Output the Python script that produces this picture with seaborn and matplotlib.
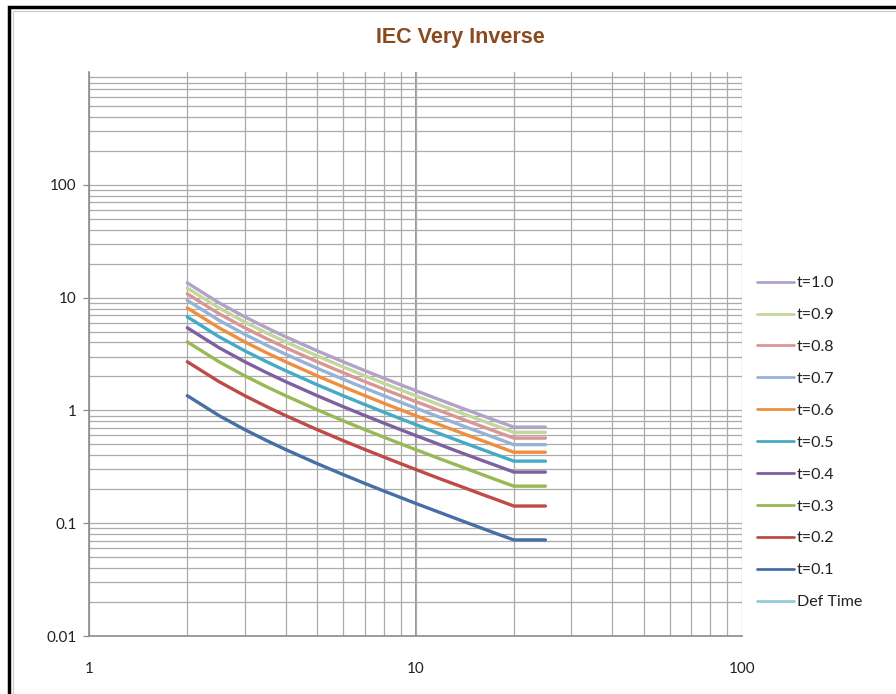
import matplotlib
matplotlib.use("Agg")
import numpy as np
import pandas as pd
import matplotlib.pyplot as plt
import seaborn as sns
from matplotlib.ticker import FixedLocator, FixedFormatter, NullFormatter, LogLocator
from matplotlib.lines import Line2D
from matplotlib.patches import Rectangle
from matplotlib import font_manager

# ---------------- data ----------------
current_multiple = [2, 2.5, 3, 3.5, 4, 5, 6, 7, 8, 9, 10, 12, 14, 16, 18, 20, 25]

t_01 = [1.35, 0.9, 0.675, 0.54, 0.45, 0.3375, 0.27, 0.225, 0.193, 0.169, 0.15, 0.123, 0.104, 0.09, 0.0794, 0.0711, 0.0711]
t_02 = [2.7, 1.8, 1.35, 1.08, 0.9, 0.675, 0.54, 0.45, 0.386, 0.3375, 0.3, 0.245, 0.208, 0.18, 0.159, 0.142, 0.142]
t_03 = [4.05, 2.7, 2.025, 1.62, 1.35, 1.0125, 0.81, 0.675, 0.579, 0.506, 0.45, 0.368, 0.312, 0.27, 0.238, 0.213, 0.213]
t_04 = [5.4, 3.6, 2.7, 2.16, 1.8, 1.35, 1.08, 0.9, 0.771, 0.675, 0.6, 0.491, 0.415, 0.36, 0.318, 0.284, 0.284]
t_05 = [6.75, 4.5, 3.375, 2.7, 2.25, 1.6875, 1.35, 1.125, 0.964, 0.844, 0.75, 0.614, 0.519, 0.45, 0.397, 0.355, 0.355]
t_06 = [8.1, 5.4, 4.05, 3.24, 2.7, 2.025, 1.62, 1.35, 1.157, 1.0125, 0.9, 0.736, 0.623, 0.54, 0.476, 0.426, 0.426]
t_07 = [9.45, 6.3, 4.725, 3.78, 3.15, 2.3625, 1.89, 1.575, 1.35, 1.181, 1.05, 0.859, 0.727, 0.63, 0.556, 0.497, 0.497]
t_08 = [10.8, 7.2, 5.4, 4.32, 3.6, 2.7, 2.16, 1.8, 1.543, 1.35, 1.2, 0.982, 0.831, 0.72, 0.635, 0.568, 0.568]
t_09 = [12.15, 8.1, 6.075, 4.86, 4.05, 3.0375, 2.43, 2.025, 1.736, 1.519, 1.35, 1.105, 0.935, 0.81, 0.715, 0.639, 0.639]
t_10 = [13.5, 9.0, 6.75, 5.4, 4.5, 3.375, 2.7, 2.25, 1.929, 1.688, 1.5, 1.227, 1.038, 0.9, 0.794, 0.711, 0.711]
def_time = []  # no visible points in chart range

series_labels = ["t=0.1", "t=0.2", "t=0.3", "t=0.4", "t=0.5",
                 "t=0.6", "t=0.7", "t=0.8", "t=0.9", "t=1.0"]
series_values = [t_01, t_02, t_03, t_04, t_05, t_06, t_07, t_08, t_09, t_10]
series_colors = ["#466FA6", "#BE4B48", "#98B954", "#7D60A0", "#46AAC5",
                 "#EE8E3E", "#95B3D7", "#D99694", "#C3D69B", "#B3A2C7"]
def_time_label = "Def Time"
def_time_color = "#93CDDD"

y_ticks = [0.01, 0.1, 1, 10, 100]
y_tick_labels = ["0.01", "0.1", "1", "10", "100"]
x_ticks = [1, 10, 100]
x_tick_labels = ["1", "10", "100"]
title_text = "IEC Very Inverse"

# ---------------- style ----------------
sns.set_theme(style="white")
names = {f.name for f in font_manager.fontManager.ttflist}
body_font = "Lato" if "Lato" in names else "DejaVu Sans"
title_font = "Liberation Sans Narrow" if "Liberation Sans Narrow" in names else "Liberation Sans"
title_size = 18 if title_font == "Liberation Sans Narrow" else 15.5
plt.rcParams["font.family"] = [body_font, "DejaVu Sans"]

W, H = 896, 694
fig = plt.figure(figsize=(W / 100, H / 100), dpi=100)
fig.patch.set_facecolor("white")

# chart frame
fig.add_artist(Rectangle((9 / W, -0.1), 1.2, 1 - 7 / H + 0.1, transform=fig.transFigure,
                         fill=False, edgecolor="black", lw=2.5, zorder=0))
fig.add_artist(Rectangle((13 / W, -0.1), 1.2, 1 - 11 / H + 0.1, transform=fig.transFigure,
                         fill=False, edgecolor="#C8C8C8", lw=0.8, zorder=0))

left, right, top, bottom = 89, 742, 72, 636
ax = fig.add_axes([left / W, 1 - bottom / H, (right - left) / W, (bottom - top) / H])

rows = []
for lab, vals in zip(series_labels, series_values):
    for xv, yv in zip(current_multiple, vals):
        rows.append({"I": xv, "t": yv, "series": lab})
df = pd.DataFrame(rows)

ax.set_xscale("log")
ax.set_yscale("log")
ax.set_xlim(1, 100)
ax.set_ylim(0.01, 1000)

# grid
grid_color = "#ABABAB"
ax.xaxis.set_major_locator(FixedLocator(x_ticks))
ax.xaxis.set_major_formatter(FixedFormatter(x_tick_labels))
ax.xaxis.set_minor_locator(LogLocator(base=10, subs=np.arange(2, 10)))
ax.xaxis.set_minor_formatter(NullFormatter())
ax.yaxis.set_major_locator(FixedLocator(y_ticks))
ax.yaxis.set_major_formatter(FixedFormatter(y_tick_labels))
ax.yaxis.set_minor_locator(LogLocator(base=10, subs=np.arange(2, 10), numticks=20))
ax.yaxis.set_minor_formatter(NullFormatter())
ax.grid(which="both", axis="both", color=grid_color, lw=0.9, zorder=0)
ax.axvline(10, color="#7A7A7A", lw=1.1, zorder=0.5)
ax.set_axisbelow(True)

sns.lineplot(data=df, x="I", y="t", hue="series", hue_order=series_labels,
             palette=dict(zip(series_labels, series_colors)), lw=2.4,
             estimator=None, sort=False, legend=False, ax=ax)
ax.plot(def_time, def_time, color=def_time_color, lw=2.4)

ax.set_xlabel("")
ax.set_ylabel("")

for side in ["top", "right"]:
    ax.spines[side].set_visible(False)
for side in ["left", "bottom"]:
    ax.spines[side].set_color("#8C8C8C")
    ax.spines[side].set_linewidth(1.2)

ax.tick_params(axis="x", which="both", length=0, pad=19, labelsize=11, colors="#222222")
ax.tick_params(axis="y", which="major", length=4, width=0.9, color="#8C8C8C",
               pad=5, labelsize=11, labelcolor="#222222", left=True)
ax.tick_params(axis="y", which="minor", length=0)

# title
fig.text(460 / W, 1 - 38 / H, title_text, ha="center", va="center",
         fontsize=title_size, fontweight="bold", color="#8B4A1E",
         family=[title_font, "DejaVu Sans"])

# legend: t=1.0 on top down to t=0.1, then Def Time
handles = [Line2D([0], [0], color=c, lw=2) for c in series_colors[::-1]]
labels = series_labels[::-1]
handles.append(Line2D([0], [0], color=def_time_color, lw=2))
labels.append(def_time_label)
fig.legend(handles, labels, loc="upper left", bbox_to_anchor=(757 / W, 1 - 276 / H),
           frameon=False, fontsize=11.5, handlelength=2.3, handletextpad=0.2,
           labelspacing=1.11, borderpad=0, borderaxespad=0, labelcolor="#222222")

fig.savefig("out.png", dpi=100, facecolor="white")
